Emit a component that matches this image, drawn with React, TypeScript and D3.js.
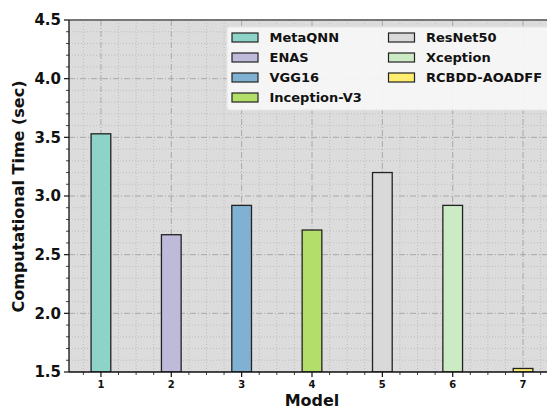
import React from "react";
import * as d3 from "d3";

const models = [1, 2, 3, 4, 5, 6, 7];
const names = ["MetaQNN", "ENAS", "VGG16", "Inception-V3", "ResNet50", "Xception", "RCBDD-AOADFF"];
const times = [3.53, 2.67, 2.92, 2.71, 3.2, 2.92, 1.53];
const colors = ["#8dd3c7", "#bebada", "#80b1d3", "#b3de69", "#d9d9d9", "#ccebc5", "#ffed6f"];
const yTicks = [1.5, 2.0, 2.5, 3.0, 3.5, 4.0, 4.5];

const W = 547, H = 410;
const L = 69, T = 20, R = 555, B = 372;
const FONT = "DejaVu Sans, sans-serif";

export default function App() {
  const x = d3.scaleLinear().domain([0.546, 7.454]).range([L, R]);
  const y = d3.scaleLinear().domain([1.5, 4.5]).range([B, T]);
  const barW = x(0.28) - x(0);

  const xMinor = d3.range(0.75, 7.5, 0.25).filter((v) => Math.abs(v - Math.round(v)) > 1e-6);
  const yMinor = d3.range(1.6, 4.5, 0.1).filter((v) => Math.abs(v * 2 - Math.round(v * 2)) > 1e-6);

  const legendCols = [names.slice(0, 4), names.slice(4)];

  return (
    <svg width={W} height={H} style={{ position: "absolute", left: 0, top: 0 }} fontFamily={FONT}>
      <defs>
        <clipPath id="plot">
          <rect x={L} y={T} width={R - L} height={B - T} />
        </clipPath>
      </defs>
      <rect x={0} y={0} width={W} height={H} fill="#fff" />
      <rect x={L} y={T} width={R - L} height={B - T} fill="#dcdcdc" />
      <g clipPath="url(#plot)">
        {xMinor.map((v) => (
          <line key={"xm" + v} x1={x(v)} x2={x(v)} y1={T} y2={B} stroke="#b8b8b8" strokeWidth={0.8} strokeDasharray="1,2" />
        ))}
        {yMinor.map((v) => (
          <line key={"ym" + v} x1={L} x2={R} y1={y(v)} y2={y(v)} stroke="#b8b8b8" strokeWidth={0.8} strokeDasharray="1,2" />
        ))}
        {models.map((v) => (
          <line key={"xg" + v} x1={x(v)} x2={x(v)} y1={T} y2={B} stroke="#a8a8a8" strokeWidth={1} strokeDasharray="6,2,1,2" />
        ))}
        {yTicks.map((v) => (
          <line key={"yg" + v} x1={L} x2={R} y1={y(v)} y2={y(v)} stroke="#a8a8a8" strokeWidth={1} strokeDasharray="6,2,1,2" />
        ))}
        {models.map((m, i) => (
          <rect
            key={"b" + m}
            x={x(m) - barW / 2}
            y={y(times[i])}
            width={barW}
            height={B - y(times[i])}
            fill={colors[i]}
            stroke="#222"
            strokeWidth={1.3}
          />
        ))}
      </g>
      {/* spines */}
      <line x1={L} x2={R} y1={T} y2={T} stroke="#777" strokeWidth={2} />
      <line x1={L} x2={L} y1={T} y2={B} stroke="#111" strokeWidth={1.3} />
      <line x1={L} x2={R} y1={B} y2={B} stroke="#111" strokeWidth={1.3} />
      {/* y ticks */}
      {yTicks.map((v) => (
        <g key={"yt" + v}>
          <line x1={L - 5} x2={L} y1={y(v)} y2={y(v)} stroke="#111" strokeWidth={1.2} />
          <text x={L - 8} y={y(v)} dy="0.36em" textAnchor="end" fontSize={15} fontWeight="bold" fill="#111">
            {v.toFixed(1)}
          </text>
        </g>
      ))}
      {yMinor.map((v) => (
        <line key={"ymt" + v} x1={L - 3} x2={L} y1={y(v)} y2={y(v)} stroke="#111" strokeWidth={0.8} />
      ))}
      {/* x ticks */}
      {models.map((v) => (
        <g key={"xt" + v}>
          <line x1={x(v)} x2={x(v)} y1={B} y2={B + 5} stroke="#111" strokeWidth={1.2} />
          <text x={x(v)} y={B + 16} textAnchor="middle" fontSize={10} fontWeight="bold" fill="#111">
            {v}
          </text>
        </g>
      ))}
      {xMinor.map((v) => (
        <line key={"xmt" + v} x1={x(v)} x2={x(v)} y1={B} y2={B + 3} stroke="#111" strokeWidth={0.8} />
      ))}
      {/* axis labels */}
      <text x={(L + R) / 2} y={406} textAnchor="middle" fontSize={16} fontWeight="bold" fill="#111">
        Model
      </text>
      <text
        transform={`translate(24,${196.5}) rotate(-90)`}
        textAnchor="middle"
        fontSize={16}
        fontWeight="bold"
        fill="#111"
      >
        Computational Time (sec)
      </text>
      {/* legend */}
      <rect x={227} y={27} width={340} height={83} rx={3} fill="#f5f5f5" fillOpacity={0.95} stroke="#e6e6e6" />
      {legendCols.map((col, ci) =>
        col.map((nm, ri) => {
          const idx = ci * 4 + ri;
          const px = ci === 0 ? 232 : 388.5;
          const cy = 37.5 + ri * 20;
          return (
            <g key={"lg" + nm}>
              <rect x={px} y={cy - 4.5} width={26} height={9} fill={colors[idx]} stroke="#222" strokeWidth={1.2} />
              <text x={px + 37.5} y={cy} dy="0.36em" fontSize={13} fontWeight="bold" fill="#111">
                {nm}
              </text>
            </g>
          );
        })
      )}
    </svg>
  );
}
